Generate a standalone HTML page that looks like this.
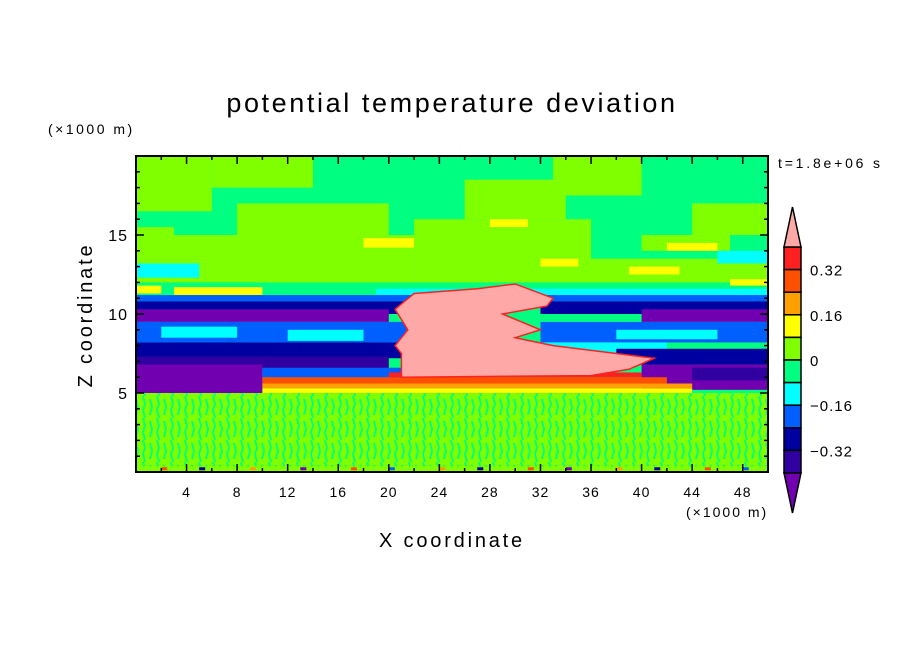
<!DOCTYPE html>
<html><head><meta charset="utf-8"><style>
body{margin:0;background:#fff;width:904px;height:654px;overflow:hidden}
svg text{font-family:"Liberation Sans",sans-serif;fill:#000}
</style></head><body>
<svg id="c" width="904" height="654">
<defs>
<clipPath id="clip"><rect x="136" y="156" width="632" height="316"/></clipPath>
<pattern id="streak" width="14" height="22" patternUnits="userSpaceOnUse">
<rect width="14" height="22" fill="#80ff00"/>
<path d="M2 0 L4 8 L2 14 L4 22 L6 22 L4 14 L6 8 L4 0Z M9 3 L11 11 L9 19 L11 19 L13 11 L11 3Z" fill="#00ff80"/>
</pattern>
</defs>
<g id="field" clip-path="url(#clip)"></g>
<rect x="136" y="156" width="632" height="316" fill="none" stroke="#000" stroke-width="2"/>
<g id="axes"></g>
<text x="452" y="112" font-size="27" letter-spacing="2.6" text-anchor="middle">potential temperature deviation</text>
<text x="48" y="134" font-size="14" letter-spacing="2.5">(×1000 m)</text>
<text x="778" y="168" font-size="14" letter-spacing="2.8">t=1.8e+06 s</text>
<text x="686" y="517" font-size="14" letter-spacing="2">(×1000 m)</text>
<text x="452" y="547" font-size="20" letter-spacing="2.8" text-anchor="middle">X coordinate</text>
<text transform="translate(92,315) rotate(-90)" font-size="20" letter-spacing="2.8" text-anchor="middle">Z coordinate</text>
<g id="cbar"></g>
</svg>
<script>
const colors=["#7000b0","#3000a0","#0000a0","#0060ff","#00ffff","#00ff80","#80ff00","#ffff00","#ffa000","#ff5000","#ff2020","#ffa8a8"];
const cbLabels=["0.32","0.16","0","−0.16","−0.32"];
const xTicks=[4,8,12,16,20,24,28,32,36,40,44,48];
const yTicks=[5,10,15];
// regions: [x0,x1,z0,z1,colorLevel]
const regions=[
[0,50,0,20,5],
[0,6,16.5,20,6],[6,14,18,20,6],[0,3,12,15.5,6],[3,22,12,15,6],[8,20,15,17,6],[22,36,12,16,6],[26,34,16,18.5,6],[36,50,12,13.5,6],[40,47,14,15,6],[33,40,17.5,20,6],[44,50,15,17,6],
[0,5,12.3,13.2,4],[19,50,11.1,11.6,4],[46,50,13.2,14,4],
[0,2,11.3,11.8,7],[3,10,11.2,11.7,7],[18,22,14.2,14.8,7],[28,31,15.5,16,7],[39,43,12.5,13,7],[42,46,14,14.5,7],[47,50,11.8,12.2,7],[32,35,13,13.5,7],
[0,22,10.8,11.2,3],[0,22,10,10.8,2],[0,20,9.5,10.3,0],[0,22,8.2,9.5,3],[2,8,8.5,9.2,4],[12,18,8.3,9,4],[0,22,7.2,8.2,2],[0,20,6.5,7.3,1],[0,10,5,6.8,0],[10,21,5.8,6.6,3],
[32,50,10.8,11.2,3],[32,50,10,10.8,2],[40,50,9.5,10.3,0],[32,50,8.2,9.5,3],[38,46,8.4,9,4],[32,42,7.5,8.2,4],[38,50,6.8,7.8,2],[40,50,5.2,6.8,0],[44,50,5.8,6.6,1],
[0,50,0,5,-1],
[10,44,5,5.3,7],[10,44,5.3,5.6,8],[10,42,5.6,6,9],[20,40,6,6.3,10],
[0,50,0,0.35,6],
];
const pinkX=[21,21,20.5,21.5,20.5,22,27,30,33,32.5,29,32,30,33,38,41,39,36,21];
const pinkZ=[6,7.5,8,9,10.3,11.3,11.6,11.9,11,10.5,10,9,8.5,8,7.5,7.2,6.5,6.1,6];
const dotX=[2,5,9,13,17,20,24,27,31,34,38,41,45,48];
const dotLevel=[9,2,8,0,9,3,8,2,9,0,8,2,9,3];
const X0=136,X1=768,Y0=472,Y1=156;
const sx=x=>X0+x*(X1-X0)/50, sz=z=>Y0-z*(Y0-Y1)/20;
const NS="http://www.w3.org/2000/svg";
function mk(t,a,p){const e=document.createElementNS(NS,t);for(const k in a)e.setAttribute(k,a[k]);p.appendChild(e);return e;}
const f=document.getElementById('field');
regions.forEach(r=>{const e=mk('rect',{x:sx(r[0]),y:sz(r[3]),width:sx(r[1])-sx(r[0]),height:sz(r[2])-sz(r[3]),fill:r[4]<0?'url(#streak)':colors[r[4]]},f);

});
const pk=mk('polygon',{points:pinkX.map((x,i)=>sx(x)+','+sz(pinkZ[i])).join(' '),fill:colors[11],stroke:colors[10],'stroke-width':1.5},f);


dotX.forEach((x,i)=>{const e=mk('rect',{x:sx(x),y:sz(0.3),width:6,height:3,fill:colors[dotLevel[i]]},f);

});
const ax=document.getElementById('axes');


for(let x=2;x<50;x+=2){const L=(x%4==0)?8:4;
mk('line',{x1:sx(x),x2:sx(x),y1:Y0,y2:Y0-L,stroke:'#000','stroke-width':1.5},ax);
mk('line',{x1:sx(x),x2:sx(x),y1:Y1,y2:Y1+L,stroke:'#000','stroke-width':1.5},ax);}
for(let z=1;z<20;z++){const L=(z%5==0)?8:4;
mk('line',{x1:X0,x2:X0+L,y1:sz(z),y2:sz(z),stroke:'#000','stroke-width':1.5},ax);
mk('line',{x1:X1,x2:X1-L,y1:sz(z),y2:sz(z),stroke:'#000','stroke-width':1.5},ax);}
xTicks.forEach(x=>{const t=mk('text',{x:sx(x),y:497,'font-size':14,'text-anchor':'middle','letter-spacing':1},ax);t.textContent=x;

});
yTicks.forEach(z=>{const t=mk('text',{x:128,y:sz(z)+6,'font-size':16,'text-anchor':'end','letter-spacing':1},ax);t.textContent=z;

});
const cb=document.getElementById('cbar');
const bx=784,bw=17,bt=247,bb=473,n=10,sh=(bb-bt)/n;
for(let i=0;i<n;i++){const lv=10-i;const e=mk('rect',{x:bx,y:bt+i*sh,width:bw,height:sh,fill:colors[lv],stroke:'#000','stroke-width':1.5},cb);

}
const tt=mk('polygon',{points:`${bx},${bt} ${bx+bw/2},207 ${bx+bw},${bt}`,fill:colors[11],stroke:'#000','stroke-width':1.5},cb);


const tb=mk('polygon',{points:`${bx},${bb} ${bx+bw/2},513 ${bx+bw},${bb}`,fill:colors[0],stroke:'#000','stroke-width':1.5},cb);


cbLabels.forEach((l,i)=>{const t=mk('text',{x:810,y:bt+(i*2+1)*sh+6,'font-size':15,'letter-spacing':1},cb);t.textContent=l;

});
</script>
</body></html>
